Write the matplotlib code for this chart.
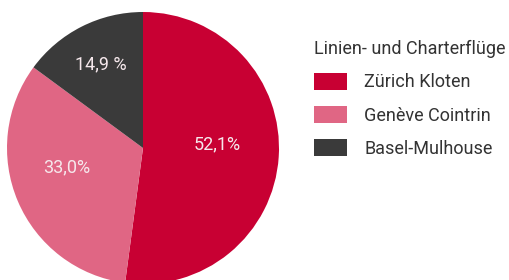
import numpy as np
import matplotlib.pyplot as plt
from matplotlib.patches import Patch

# Data
airports = ["Zürich Kloten", "Genève Cointrin", "Basel-Mulhouse"]
shares = [52.1, 33.0, 14.9]
share_labels = ["52,1%", "33,0%", "14,9 %"]
colors = ["#C80033", "#E06684", "#3A3A3A"]
legend_title = "Linien- und Charterflüge"

plt.rcParams['font.family'] = ['Roboto', 'DejaVu Sans']

fig = plt.figure(figsize=(5.1, 2.8), dpi=100)
ax = fig.add_axes([7 / 510, -4 / 280, 272 / 510, 272 / 280])

wedges, texts = ax.pie(shares, colors=colors, startangle=90, counterclock=False,
                       radius=1, labels=share_labels, labeldistance=0.6,
                       wedgeprops=dict(linewidth=0))
ax.set_xlim(-1, 1)
ax.set_ylim(-1, 1)
ax.set_aspect('equal')

# label placement (angle in degrees, distance from centre)
label_ang = [3, 194, 117]
label_dist = [0.545, 0.575, 0.69]
for t, a, d in zip(texts, label_ang, label_dist):
    ang = np.deg2rad(a)
    t.set_position((d * np.cos(ang), d * np.sin(ang)))
    t.set_ha('center')
    t.set_va('center')
    t.set_color('#F6E8EC')
    t.set_fontsize(13)

handles = [Patch(facecolor=c, edgecolor='none') for c in colors]
leg = fig.legend(handles, airports, title=legend_title, loc='upper left',
                 bbox_to_anchor=(314 / 510, 1 - 40 / 280), frameon=False,
                 borderpad=0, borderaxespad=0,
                 fontsize=13, title_fontsize=13, alignment='left',
                 handlelength=1.83, handleheight=1.1, handletextpad=0.95,
                 labelspacing=0.8)
for txt in leg.get_texts():
    txt.set_color('#333333')
leg.get_title().set_color('#333333')

fig.savefig("out.png", dpi=100)
